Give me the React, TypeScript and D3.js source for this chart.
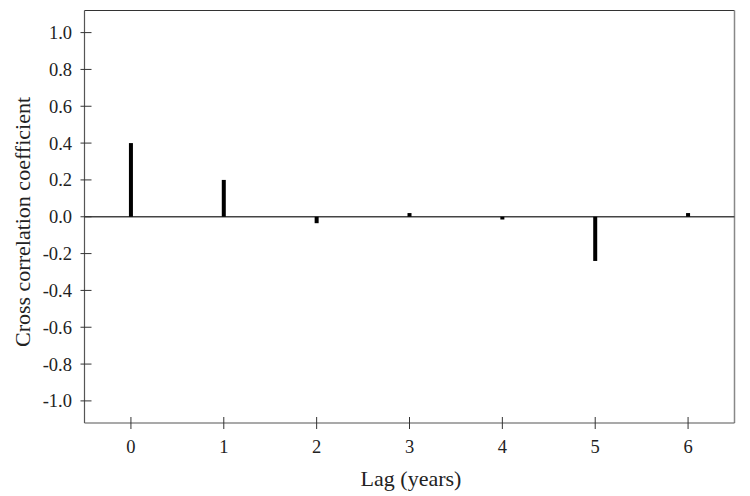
import React from "react";
import * as d3 from "d3";

const lags = [0, 1, 2, 3, 4, 5, 6];
const coefficients = [0.4, 0.2, -0.035, 0.02, -0.015, -0.24, 0.02];
const yTicks = [1.0, 0.8, 0.6, 0.4, 0.2, 0.0, -0.2, -0.4, -0.6, -0.8, -1.0];

const W = 750;
const H = 496;
const left = 84.5;
const right = 734.5;
const top = 10.5;
const bottom = 423;

export default function App() {
  const x = d3.scaleLinear().domain([-0.5, 6.5]).range([left, right]);
  const y = d3.scaleLinear().domain([-1.12, 1.12]).range([bottom, top]);
  const font = "'Liberation Serif', 'Times New Roman', serif";
  return (
    <svg width={W} height={H} style={{ position: "absolute", left: 0, top: 0 }}>
      <rect x={0} y={0} width={W} height={H} fill="#fff" />
      {/* frame */}
      <line x1={left} x2={right} y1={top} y2={top} stroke="#333" strokeWidth={1.2} />
      <line x1={right} x2={right} y1={top} y2={bottom} stroke="#888" strokeWidth={1.5} />
      <line x1={left} x2={left} y1={top} y2={bottom} stroke="#555" strokeWidth={1.2} />
      <line x1={left} x2={right} y1={bottom} y2={bottom} stroke="#555" strokeWidth={1.2} />
      {/* zero line */}
      <line x1={left} x2={right} y1={y(0)} y2={y(0)} stroke="#444" strokeWidth={1.3} />
      {/* y ticks */}
      {yTicks.map((t) => (
        <g key={t}>
          <line x1={left - 4} x2={left + 7} y1={y(t)} y2={y(t)} stroke="#333" strokeWidth={1} />
          <text x={72} y={y(t)} dy="0.35em" textAnchor="end" fontFamily={font} fontSize={18.5} fill="#222">
            {t === 0 ? "0.0" : d3.format(".1f")(t).replace("−", "-")}
          </text>
        </g>
      ))}
      {/* x ticks */}
      {lags.map((l) => (
        <g key={l}>
          <line x1={x(l)} x2={x(l)} y1={bottom - 6} y2={bottom + 6} stroke="#333" strokeWidth={1} />
          <text x={x(l)} y={447} dy="0.35em" textAnchor="middle" fontFamily={font} fontSize={18.5} fill="#222">
            {l}
          </text>
        </g>
      ))}
      {/* bars */}
      {coefficients.map((c, i) => (
        <rect
          key={i}
          x={x(lags[i]) - 2}
          width={4}
          y={Math.min(y(c), y(0))}
          height={Math.max(Math.abs(y(c) - y(0)), 1)}
          fill="#000"
        />
      ))}
      <text
        x={411}
        y={478}
        dy="0.35em"
        textAnchor="middle"
        fontFamily={font}
        fontSize={22}
        fill="#222"
      >
        Lag (years)
      </text>
      <text
        transform={`translate(22,222) rotate(-90)`}
        dy="0.35em"
        textAnchor="middle"
        fontFamily={font}
        fontSize={22}
        fill="#222"
      >
        Cross correlation coefficient
      </text>
    </svg>
  );
}
